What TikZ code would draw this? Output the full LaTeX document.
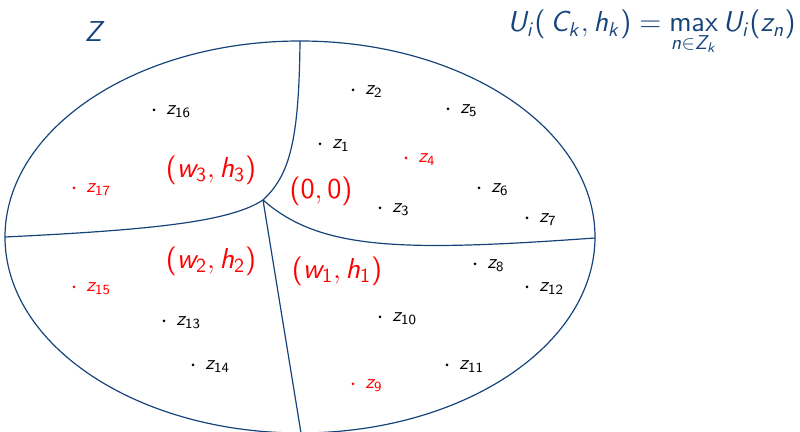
\documentclass[tikz,border=0pt]{standalone}
\DeclareSymbolFont{operators}{OT1}{cmss}{m}{n}
\DeclareSymbolFont{sfletters}{OT1}{cmss}{m}{sl}
\DeclareMathSymbol{U}{\mathalpha}{sfletters}{`U}
\DeclareMathSymbol{C}{\mathalpha}{sfletters}{`C}
\DeclareMathSymbol{Z}{\mathalpha}{sfletters}{`Z}
\DeclareMathSymbol{i}{\mathalpha}{sfletters}{`i}
\DeclareMathSymbol{k}{\mathalpha}{sfletters}{`k}
\DeclareMathSymbol{h}{\mathalpha}{sfletters}{`h}
\DeclareMathSymbol{n}{\mathalpha}{sfletters}{`n}
\DeclareMathSymbol{w}{\mathalpha}{sfletters}{`w}
\DeclareMathSymbol{z}{\mathalpha}{sfletters}{`z}
\definecolor{zblue}{RGB}{22,68,122}
\definecolor{zred}{RGB}{255,0,0}
\tikzset{
  part/.style={draw=zblue, line width=0.6pt},
  zdot/.style={circle, inner sep=0pt, minimum size=1.5pt},
  zlab/.style={anchor=base west, inner sep=0pt, font=\normalsize},
  wlab/.style={text=zred, font=\Large, inner sep=0pt},
  title/.style={text=zblue, font=\Large, inner sep=0pt}
}
\begin{document}
\begin{tikzpicture}[x=0.5pt,y=-0.5pt]
\useasboundingbox (0,0) rectangle (800,432);
\coordinate (C) at (300,237);
\draw[part] (C) ellipse [x radius=295, y radius=196];
\coordinate (P) at (263,200);
\coordinate (T) at (300,41);
\coordinate (L) at (5,237);
\coordinate (R) at (595,238);
\coordinate (B) at (301,433);
\draw[part] (P) .. controls (290,175) and (299,140) .. (T);
\draw[part] (P) .. controls (230,222) and (150,230) .. (L);
\draw[part] (P) .. controls (320,250) and (400,252) .. (R);
\draw[part] (P) -- (B);
\foreach \x/\y/\n/\c in {154/110/16/black, 353/90/2/black, 448/109/5/black,
  320/144/1/black, 406/158/4/zred, 74/188/17/zred, 479/188/6/black,
  380/208/3/black, 527/218/7/black, 475/264/8/black, 527/287/12/black,
  74/287/15/zred, 164/321/13/black, 380/317/10/black, 193/365/14/black,
  447/365/11/black, 353/384/9/zred} {
  \node[zdot, fill=\c] (d\n) at (\x,\y) {};
  \node[zlab, text=\c] (z\n) at (\x+12,\y+5) {$z_{\n}$};
}
\node[wlab] (w3) at (211,170) {$(w_3,h_3)$};
\node[wlab] (o)  at (321,191) {$(0,0)$};
\node[wlab] (w2) at (211,261) {$(w_2,h_2)$};
\node[wlab] (w1) at (337,271) {$(w_1,h_1)$};
\node[title] (Z) at (95,32) {$Z$};
\node[title, anchor=base east] (F) at (796,32)
  {$\displaystyle U_i(\,C_k,h_k)=\max_{n\in Z_k}U_i(z_n)$};
\end{tikzpicture}
\end{document}
